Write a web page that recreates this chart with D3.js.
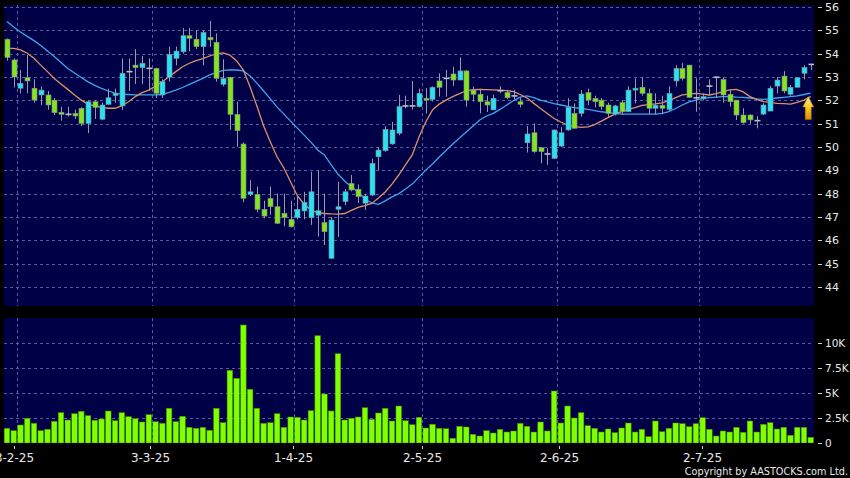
<!DOCTYPE html>
<html><head><meta charset="utf-8">
<script src="https://cdn.jsdelivr.net/npm/d3@7"></script>
<style>html,body{margin:0;padding:0;background:#000;} svg{display:block}</style>
</head><body><svg id="c" width="850" height="478"></svg>
<script>
// ---- data (one entry per trading session) ----
const openP = [54.62,53.73,52.52,52.97,52.52,52.23,52.23,52.01,51.49,51.40,51.44,51.66,51.01,51.94,51.19,51.83,52.20,51.76,53.23,53.51,
53.40,53.37,53.37,52.23,52.99,53.80,54.08,54.77,54.62,54.30,54.70,54.49,52.69,52.99,51.40,50.13,47.97,47.97,47.33,47.80,
47.44,47.16,46.90,46.97,47.26,46.97,47.08,46.76,45.23,47.33,47.66,48.44,48.19,47.59,47.94,49.58,49.84,50.13,50.59,51.76,
51.76,51.73,52.09,52.04,52.83,52.94,53.13,52.87,53.26,52.44,52.26,51.94,51.59,52.41,52.34,52.17,51.94,50.18,50.61,49.97,
49.70,49.51,50.04,50.73,51.44,51.44,52.33,52.08,52.01,51.80,51.41,51.90,51.51,52.44,52.56,52.30,51.66,51.79,51.61,52.83,
53.37,53.51,52.11,52.06,52.61,52.99,52.90,52.26,52.01,51.37,51.37,51.13,51.41,51.54,52.61,53.04,52.26,52.56,53.16,53.54];
const highP = [54.65,53.80,53.30,53.94,52.90,52.60,52.40,52.10,51.73,51.73,51.60,51.70,52.00,52.00,51.90,52.50,52.50,53.80,53.80,54.20,
53.90,53.80,53.40,52.90,54.30,54.30,55.10,55.10,55.00,55.00,55.40,54.87,53.76,53.00,51.94,50.20,48.58,48.30,47.70,48.30,
48.00,48.00,47.70,47.87,48.08,48.94,49.00,48.00,47.00,48.51,48.20,48.80,48.40,48.00,49.50,50.00,50.90,51.08,52.23,52.20,
52.83,52.50,52.52,52.60,53.16,53.30,53.44,53.84,53.30,52.60,52.50,52.20,52.24,52.60,52.45,52.45,52.10,50.90,51.01,50.00,
49.94,50.75,50.85,52.09,51.87,52.44,52.50,52.20,52.10,51.90,51.80,52.00,52.60,52.94,53.00,52.50,52.30,52.20,52.60,53.50,
53.60,53.51,52.94,52.30,52.90,53.00,52.99,52.44,52.01,51.66,51.40,51.33,51.88,52.62,53.00,53.25,52.66,52.97,53.50,53.54];
const lowP = [53.70,52.55,52.30,52.30,51.90,51.80,51.60,51.37,51.13,51.30,51.20,50.90,50.60,51.20,51.15,51.80,51.90,51.59,52.40,52.70,
52.70,52.40,52.10,52.10,52.80,53.50,54.00,54.10,54.20,53.50,54.30,52.80,52.60,50.73,50.01,47.63,47.90,47.20,46.95,47.10,
46.70,46.60,46.55,46.90,46.90,46.66,46.16,45.80,45.20,46.15,47.50,48.10,47.60,47.30,47.90,49.00,49.80,50.10,50.50,51.66,
51.60,51.70,51.44,51.95,52.16,52.16,52.61,52.87,51.73,51.95,51.44,51.50,51.59,52.30,52.05,52.05,51.70,49.76,49.75,49.30,
49.23,49.50,50.00,50.70,50.80,51.30,51.80,51.70,51.60,51.30,51.35,51.40,51.50,51.87,52.20,51.40,51.40,51.40,51.55,52.60,
52.85,52.10,51.51,52.00,52.20,52.10,51.90,51.73,51.16,51.00,51.00,50.80,51.37,51.54,52.30,52.30,52.20,52.56,52.90,53.30];
const closeP = [53.84,53.00,52.73,52.83,52.01,52.44,51.80,51.47,51.40,51.40,51.33,51.01,51.94,51.70,51.80,52.11,52.30,53.16,53.23,53.40,
53.59,53.37,52.30,52.80,53.97,54.11,54.77,54.66,54.30,54.91,54.59,52.94,52.94,51.40,50.70,47.80,48.08,47.33,47.04,47.44,
46.73,46.97,46.58,47.33,47.63,48.08,47.27,46.37,46.87,47.44,48.08,48.16,47.87,47.90,49.30,49.87,50.76,50.73,51.73,51.76,
51.76,52.30,52.01,52.56,52.56,52.94,52.87,53.26,52.01,52.26,51.94,51.80,52.09,52.41,52.11,52.21,51.83,50.56,49.80,49.80,
49.70,50.73,50.61,51.70,50.80,52.27,52.01,51.94,51.73,51.44,51.76,51.51,52.44,52.52,52.30,51.66,51.79,51.66,52.30,53.37,
52.94,52.13,52.11,52.16,52.61,52.99,52.23,51.94,51.37,51.04,51.16,51.13,51.80,52.52,52.87,52.40,52.56,52.97,53.41,53.54];
const volume = [1470,1230,1800,2470,1970,1230,1370,2170,3030,2300,2930,3170,2730,2270,2400,3200,2230,3030,2630,2430,
2100,2830,2130,1970,3470,2130,2670,1570,1470,1570,1270,3470,2030,7270,6470,11800,5370,3470,1970,2030,
2930,1570,2600,2570,2300,3230,10730,4900,3200,8930,2300,2470,2600,3530,2370,3000,3470,2200,3700,2230,
1830,2570,1500,1870,1470,1430,470,1670,1600,870,700,1230,1000,1370,1100,1200,1970,1670,1100,2100,
1200,5200,2000,3700,2500,3030,1730,1470,1100,1400,1030,1500,2000,1100,1370,630,2200,1130,1470,2000,
1930,1630,1930,2530,1370,700,1200,1100,1570,1070,2200,1100,1870,2030,1400,1570,770,1570,1570,570];
const maShort = [54.23,54.23,54.16,54.02,53.80,53.51,53.23,52.94,52.70,52.47,52.23,52.01,51.84,51.76,51.70,51.66,51.66,51.76,51.94,52.16,
52.33,52.44,52.61,52.80,53.01,53.23,53.44,53.59,53.70,53.79,53.90,53.99,54.03,53.94,53.69,53.30,52.57,51.76,50.90,50.21,
49.57,49.10,48.50,47.90,47.56,47.30,47.19,47.15,47.13,47.12,47.15,47.28,47.41,47.49,47.58,47.81,48.07,48.41,48.80,49.23,
49.66,50.43,51.07,51.59,51.84,52.01,52.16,52.29,52.41,52.46,52.47,52.46,52.45,52.44,52.42,52.37,52.25,52.10,51.87,51.65,
51.44,51.22,51.07,50.94,50.88,50.84,50.86,50.96,51.11,51.26,51.41,51.52,51.61,51.69,51.78,51.82,51.85,51.89,51.99,52.12,
52.23,52.27,52.30,52.27,52.23,52.29,52.37,52.45,52.47,52.36,52.16,52.04,51.94,51.91,51.87,51.86,51.84,51.91,52.01,52.16];
const maLong = [55.38,55.14,54.93,54.74,54.56,54.35,54.11,53.88,53.62,53.36,53.17,52.98,52.79,52.64,52.51,52.40,52.31,52.27,52.25,52.23,
52.23,52.23,52.23,52.25,52.34,52.44,52.55,52.68,52.81,52.94,53.09,53.19,53.28,53.30,53.30,53.26,53.04,52.74,52.40,52.06,
51.71,51.41,51.11,50.81,50.51,50.21,49.87,49.66,49.23,48.84,48.54,48.29,48.07,47.77,47.60,47.54,47.69,47.86,47.99,48.20,
48.41,48.71,49.01,49.27,49.57,49.85,50.13,50.39,50.64,50.90,51.16,51.33,51.44,51.61,51.80,51.99,52.14,52.19,52.12,52.01,
51.93,51.86,51.80,51.74,51.69,51.65,51.61,51.56,51.51,51.47,51.44,51.41,51.41,51.41,51.41,51.41,51.41,51.44,51.52,51.65,
51.80,51.93,52.01,52.08,52.12,52.14,52.16,52.16,52.14,52.13,52.10,52.06,52.04,52.06,52.10,52.13,52.16,52.19,52.25,52.31];
const priceTicks = [44,45,46,47,48,49,50,51,52,53,54,55,56];
const volTicks = [0,2500,5000,7500,10000];
const volTickLabels = ["0","2.5K","5K","7.5K","10K"];
const dateTickIndex = [1,21,42,61,81,102];
const dateTickLabels = ["3-2-25","3-3-25","1-4-25","2-5-25","2-6-25","2-7-25"];
const copyright = "Copyright by AASTOCKS.com Ltd.";

// ---- layout ----
const svg = d3.select("#c");
const panelL = 4, panelR = 814;
const pTop = 5, pBot = 306, vTop = 318, vBot = 443;
const n = closeP.length;
const x = d3.scaleBand().domain(d3.range(n)).range([3.6, 814.1]).paddingInner(0).paddingOuter(0);
// label axis of the original uses one slot fewer across the same width
const xLab = d3.scaleBand().domain(d3.range(n - 1)).range([3.6, 814.1]).paddingInner(0).paddingOuter(0);
const cx = i => x(i) + x.bandwidth() / 2;
const yP = d3.scaleLinear().domain([44, 56]).range([287, 7]);
const yV = d3.scaleLinear().domain([0, 12500]).range([vBot, vTop]);

const UP = "#28e2f2", DOWN = "#84e41e", GRID = "#5a5aa0", TXT = "#e8e8e8";
const FONT = "'DejaVu Sans', Verdana, sans-serif";

svg.append("rect").attr("width", 850).attr("height", 478).attr("fill", "#000");
svg.append("rect").attr("x", panelL).attr("y", pTop).attr("width", panelR - panelL).attr("height", pBot - pTop).attr("fill", "#000046");
svg.append("rect").attr("x", panelL).attr("y", vTop).attr("width", panelR - panelL).attr("height", vBot - vTop).attr("fill", "#000046");

const defs = svg.append("defs");
defs.append("clipPath").attr("id", "pclip").append("rect").attr("x", panelL).attr("y", pTop).attr("width", panelR - panelL).attr("height", pBot - pTop);
defs.append("clipPath").attr("id", "vclip").append("rect").attr("x", panelL).attr("y", vTop).attr("width", panelR - panelL).attr("height", vBot - vTop);
const grad = defs.append("linearGradient").attr("id", "arrowGrad").attr("x1", 0).attr("y1", 0).attr("x2", 0).attr("y2", 1);
grad.append("stop").attr("offset", "0%").attr("stop-color", "#fff380");
grad.append("stop").attr("offset", "55%").attr("stop-color", "#f6c21a");
grad.append("stop").attr("offset", "100%").attr("stop-color", "#d98e00");

// grid
const grid = svg.append("g").attr("stroke", GRID).attr("stroke-width", 1).attr("stroke-dasharray", "3,3").attr("fill", "none");
priceTicks.forEach(t => {
  const yy = Math.round(yP(t)) + 0.5;
  grid.append("line").attr("x1", panelL).attr("x2", panelR).attr("y1", yy).attr("y2", yy);
});
volTicks.filter(t => t > 0).forEach(t => {
  const yy = Math.round(yV(t)) + 0.5;
  grid.append("line").attr("x1", panelL).attr("x2", panelR).attr("y1", yy).attr("y2", yy);
});
const gridX = i => Math.round(x(i) + x.step()) + 0.5;
dateTickIndex.forEach(i => {
  const gx = gridX(i);
  grid.append("line").attr("x1", gx).attr("x2", gx).attr("y1", pTop).attr("y2", pBot);
  grid.append("line").attr("x1", gx).attr("x2", gx).attr("y1", vTop).attr("y2", vBot);
});

// moving averages
const pg = svg.append("g").attr("clip-path", "url(#pclip)");
const line = arr => d3.line().x((d, i) => cx(i)).y(d => yP(d))(arr);
pg.append("path").attr("d", line(maLong)).attr("fill", "none").attr("stroke", "#3ea6ea").attr("stroke-width", 1.3);
pg.append("path").attr("d", line(maShort)).attr("fill", "none").attr("stroke", "#e0906a").attr("stroke-width", 1.3);

// candles
const bodyW = 5;
const candles = pg.selectAll("g.c").data(d3.range(n)).join("g");
candles.append("line")
  .attr("x1", i => Math.round(cx(i)) + 0.5).attr("x2", i => Math.round(cx(i)) + 0.5)
  .attr("y1", i => yP(highP[i])).attr("y2", i => yP(lowP[i]))
  .attr("stroke", "#9a9aa6").attr("stroke-width", 1);
candles.each(function(i) {
  const g = d3.select(this);
  const o = openP[i], c = closeP[i];
  const left = Math.round(cx(i)) + 0.5 - bodyW / 2;
  if (Math.abs(o - c) < 0.04) {
    const yy = yP((o + c) / 2);
    g.append("line").attr("x1", left - 0.5).attr("x2", left + bodyW + 0.5).attr("y1", yy).attr("y2", yy)
      .attr("stroke", "#b4c2cc").attr("stroke-width", 1.6);
  } else {
    const top = yP(Math.max(o, c)), bot = yP(Math.min(o, c));
    g.append("rect").attr("x", left).attr("y", top).attr("width", bodyW).attr("height", Math.max(1, bot - top))
      .attr("fill", c > o ? UP : DOWN).attr("stroke", "#7f8a96").attr("stroke-width", 0.6);
  }
});

// volume
const vg = svg.append("g").attr("clip-path", "url(#vclip)");
vg.selectAll("rect.v").data(volume).join("rect")
  .attr("x", (d, i) => x(i) + 0.6).attr("width", x.bandwidth() - 1.2)
  .attr("y", d => yV(d)).attr("height", d => vBot - yV(d))
  .attr("fill", "#80ff00").attr("stroke", "#3f8f00").attr("stroke-width", 0.5);

// right axes
const ax = svg.append("g").attr("font-family", FONT).attr("fill", TXT);
priceTicks.forEach(t => {
  const yy = Math.round(yP(t)) + 0.5;
  ax.append("line").attr("x1", 818).attr("x2", 822).attr("y1", yy).attr("y2", yy).attr("stroke", "#cfcfcf");
  ax.append("text").attr("x", 825).attr("y", yy).attr("dy", "0.36em").attr("font-size", 11).text(t);
});
volTicks.forEach((t, k) => {
  const yy = Math.round(yV(t)) + 0.5;
  ax.append("line").attr("x1", 818).attr("x2", 822).attr("y1", yy).attr("y2", yy).attr("stroke", "#cfcfcf");
  ax.append("text").attr("x", 825).attr("y", yy).attr("dy", "0.36em").attr("font-size", 10.5).text(volTickLabels[k]);
});

// x axis labels
dateTickIndex.forEach((i, k) => {
  const lx = Math.round(xLab(i) + xLab.bandwidth() / 2) + 0.5;
  ax.append("line").attr("x1", lx).attr("x2", lx).attr("y1", 446).attr("y2", 449).attr("stroke", "#cfcfcf");
  ax.append("text").attr("x", lx).attr("y", 462).attr("text-anchor", "middle").attr("font-size", 12).text(dateTickLabels[k]);
});

// arrow marker at latest short MA
const last = n - 1;
const ax0 = cx(last) - 2.5, ay0 = yP(maShort[last]);
svg.append("path")
  .attr("d", `M${ax0},${ay0} L${ax0 + 5.5},${ay0 + 10.5} L${ax0 + 3},${ay0 + 10.5} L${ax0 + 3},${ay0 + 23} L${ax0 - 3},${ay0 + 23} L${ax0 - 3},${ay0 + 10.5} L${ax0 - 5.5},${ay0 + 10.5} Z`)
  .attr("fill", "url(#arrowGrad)").attr("stroke", "#a86c00").attr("stroke-width", 0.6);

// copyright
svg.append("text").attr("x", 848).attr("y", 475).attr("text-anchor", "end")
  .attr("font-family", FONT).attr("font-size", 9.7).attr("fill", TXT).text(copyright);
</script>
</body></html>
